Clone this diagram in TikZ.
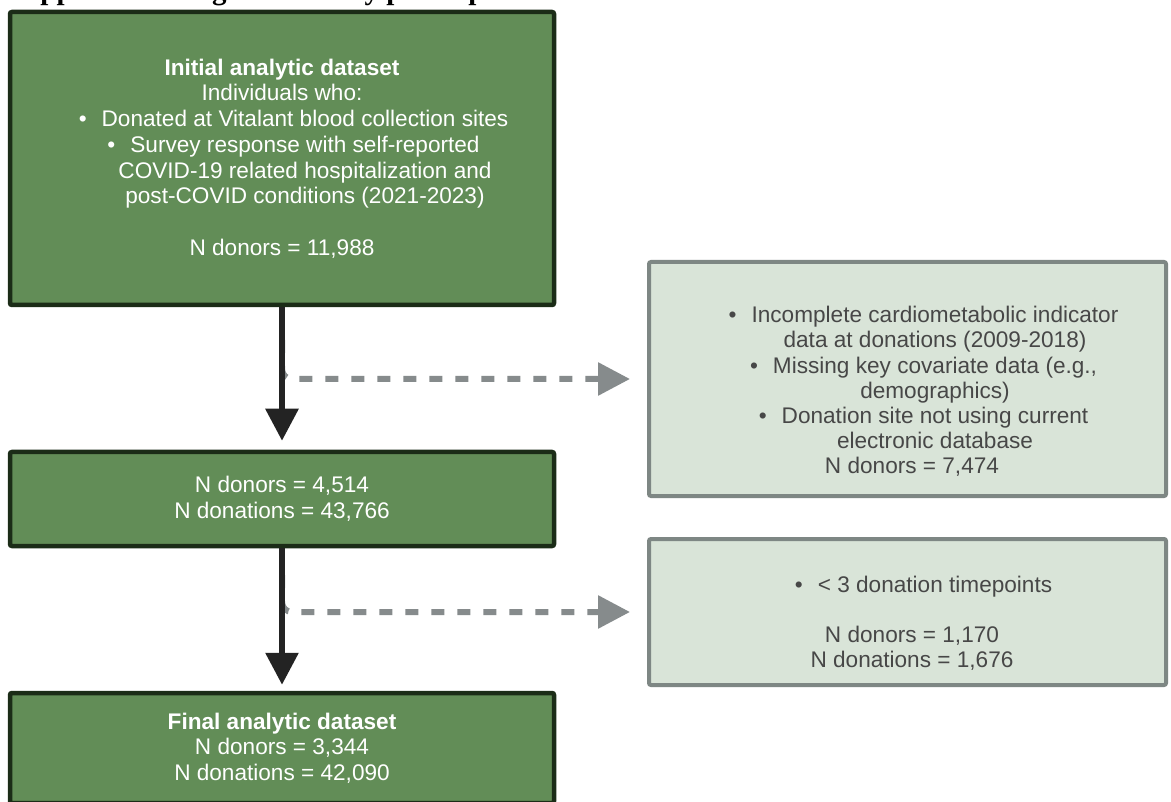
\documentclass[tikz,border=0pt]{standalone}
\usepackage{fontspec}
\setmainfont{Liberation Sans}
\newfontfamily\titlefont{Liberation Serif}
\usetikzlibrary{arrows.meta}
\definecolor{boxgreen}{HTML}{628D57}
\definecolor{boxgreenline}{HTML}{1B2C17}
\definecolor{lightfill}{HTML}{D9E4D8}
\definecolor{lightline}{HTML}{7E8784}
\definecolor{dashgray}{HTML}{868B8C}
\definecolor{arrowblack}{HTML}{232323}
\definecolor{greytext}{HTML}{474747}
\newcommand{\bul}{\llap{\textbullet\hspace{15pt}}}
\newcommand{\ind}{\hspace*{46pt}}
\begin{document}
\begin{tikzpicture}[x=1pt,y=-1pt,
  txt/.style={font=\fontsize{22.6}{25.7}\selectfont, align=center, inner sep=0pt},
  greenbox/.style={draw=boxgreenline, fill=boxgreen, line width=4.5pt, rounded corners=2pt, text=white, txt},
  lightbox/.style={draw=lightline, fill=lightfill, line width=4pt, rounded corners=2pt},
  greytxt/.style={txt, text=greytext, font=\fontsize{22.6}{25.2}\selectfont},
  mainarrow/.style={draw=arrowblack, line width=6pt, -{Triangle[length=32pt,width=32pt]}},
  exclarrow/.style={draw=dashgray, line width=6pt, dash pattern=on 13pt off 13pt, rounded corners=10pt, -{Triangle[length=32pt,width=32pt]}},
]
\useasboundingbox (0,0) rectangle (1171,802);
\fill[white] (0,0) rectangle (1171,802);
\clip (0,0) rectangle (1171,802);

\node[txt, anchor=base west, font=\titlefont\bfseries\fontsize{29}{30}\selectfont] (title) at (8,-0.5) {Supplemental Figure 1. Study participants};

\node[greenbox, minimum width=544pt, minimum height=293pt] (b1) at (282,158.5)
  {\textbf{Initial analytic dataset}\\ Individuals who:\\
   \ind\bul Donated at Vitalant blood collection sites\\
   \ind\bul Survey response with self-reported\\
   \ind COVID-19 related hospitalization and\\
   \ind post-COVID conditions (2021-2023)\\[25.7pt]
   N donors = 11,988};
\node[greenbox, minimum width=544pt, minimum height=94pt] (b2) at (282,499)
  {N donors = 4,514\\ N donations = 43,766};
\node[greenbox, minimum width=544pt, minimum height=110pt] (b3) at (282,748)
  {\textbf{Final analytic dataset}\\ N donors = 3,344\\ N donations = 42,090};

\node[lightbox, minimum width=517pt, minimum height=234pt] (b4) at (907.5,379) {};
\node[greytxt] (t4) at (912,391.5)
  {\ind\bul Incomplete cardiometabolic indicator\\
   \ind data at donations (2009-2018)\\
   \ind\bul Missing key covariate data (e.g.,\\
   \ind demographics)\\
   \ind\bul Donation site not using current\\
   \ind electronic database\\
   N donors = 7,474};
\node[lightbox, minimum width=517pt, minimum height=146pt] (b5) at (907.5,612) {};
\node[greytxt] (t5) at (912,623.5)
  {\ind\bul < 3 donation timepoints\\[25pt]
   N donors = 1,170\\ N donations = 1,676};

\coordinate (s1) at (282,340);
\coordinate (s2) at (282,575);
\draw[exclarrow, shorten >=17pt] (s1) |- (b4.west);
\draw[exclarrow, shorten >=17pt] (s2) |- (b5.west);
\draw[mainarrow, shorten >=9pt] (b1.south) -- (b2.north);
\draw[mainarrow, shorten >=6pt] (b2.south) -- (b3.north);
\end{tikzpicture}
\end{document}
